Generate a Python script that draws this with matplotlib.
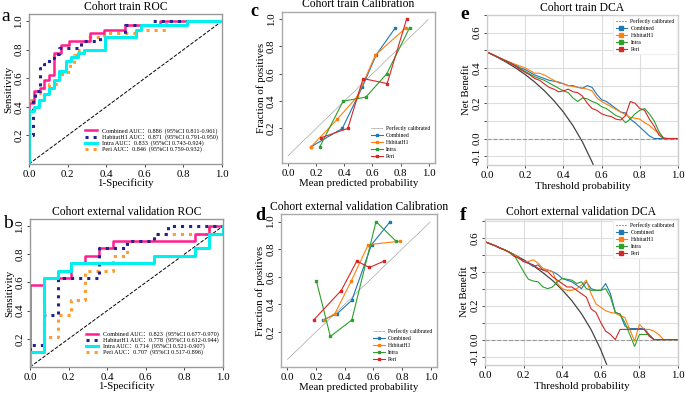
import matplotlib
matplotlib.use("Agg")
import matplotlib.pyplot as plt
from matplotlib.lines import Line2D
import numpy as np

plt.rcParams['font.family'] = ['Liberation Serif', 'Noto Sans CJK SC']

# ---------------- ROC data ----------------
roc_names = ["Combined", "HabitatH1", "Intra", "Peri"]

train_roc_auc = ["0.886", "0.871", "0.833", "0.846"]
train_roc_ci = ["0.811-0.961", "0.791-0.950", "0.743-0.924", "0.759-0.932"]
valid_roc_auc = ["0.823", "0.778", "0.714", "0.707"]
valid_roc_ci = ["0.677-0.970", "0.612-0.944", "0.521-0.907", "0.517-0.896"]

# train ROC corner points
train_comb_fpr = [0, 0, 0.026, 0.026, 0.055, 0.055, 0.078, 0.078, 0.104, 0.104, 0.13, 0.13, 0.164, 0.164,
                  0.207, 0.207, 0.314, 0.314, 0.39, 0.39, 0.5, 0.5, 0.68, 0.68, 1.0]
train_comb_tpr = [0, 0.43, 0.43, 0.51, 0.51, 0.53, 0.53, 0.59, 0.59, 0.62, 0.62, 0.78, 0.78, 0.83,
                  0.83, 0.86, 0.86, 0.915, 0.915, 0.94, 0.94, 0.97, 0.97, 1.0, 1.0]
train_hab_fpr = [0, 0, 0.02, 0.02, 0.03, 0.03, 0.055, 0.055, 0.08, 0.08, 0.105, 0.105, 0.13, 0.13,
                 0.155, 0.155, 0.27, 0.27, 0.37, 0.37, 0.5, 0.5, 0.63, 0.63, 1.0]
train_hab_tpr = [0, 0.2, 0.2, 0.45, 0.45, 0.51, 0.51, 0.67, 0.67, 0.70, 0.70, 0.74, 0.74, 0.77,
                 0.77, 0.81, 0.81, 0.86, 0.86, 0.89, 0.89, 0.97, 0.97, 1.0, 1.0]
train_intra_fpr = [0, 0, 0.025, 0.025, 0.05, 0.05, 0.078, 0.078, 0.105, 0.105, 0.13, 0.13, 0.155, 0.155,
                   0.19, 0.19, 0.216, 0.216, 0.254, 0.254, 0.285, 0.285, 0.392, 0.392, 0.555, 0.555,
                   0.58, 0.58, 0.82, 0.82, 1.0]
train_intra_tpr = [0, 0.37, 0.37, 0.40, 0.40, 0.45, 0.45, 0.49, 0.49, 0.53, 0.53, 0.59, 0.59, 0.65,
                   0.65, 0.72, 0.72, 0.75, 0.75, 0.78, 0.78, 0.80, 0.80, 0.89, 0.89, 0.94,
                   0.94, 0.97, 0.97, 1.0, 1.0]
train_peri_fpr = [0, 0, 0.03, 0.03, 0.055, 0.055, 0.105, 0.105, 0.155, 0.155, 0.18, 0.18, 0.21, 0.21,
                  0.235, 0.235, 0.26, 0.26, 0.27, 0.27, 0.3, 0.3, 0.39, 0.39, 0.56, 0.56, 0.71, 0.71, 1.0]
train_peri_tpr = [0, 0.45, 0.45, 0.50, 0.50, 0.53, 0.53, 0.56, 0.56, 0.63, 0.63, 0.645, 0.645, 0.70,
                  0.70, 0.76, 0.76, 0.80, 0.80, 0.86, 0.86, 0.89, 0.89, 0.92, 0.92, 0.94, 0.94, 1.0, 1.0]

# external validation ROC corner points
valid_comb_fpr = [0, 0, 0.071, 0.071, 0.214, 0.214, 0.286, 0.286, 0.357, 0.357, 0.429, 0.429,
                  0.857, 0.857, 0.929, 0.929, 1.0]
valid_comb_tpr = [0, 0.579, 0.579, 0.632, 0.632, 0.737, 0.737, 0.789, 0.789, 0.842, 0.842, 0.895,
                  0.895, 0.947, 0.947, 1.0, 1.0]
valid_hab_fpr = [0, 0, 0.071, 0.071, 0.143, 0.143, 0.357, 0.357, 0.5, 0.5, 0.643, 0.643, 0.714, 0.714, 1.0]
valid_hab_tpr = [0, 0.158, 0.158, 0.368, 0.368, 0.632, 0.632, 0.842, 0.842, 0.895, 0.895, 0.947,
                 0.947, 1.0, 1.0]
valid_intra_fpr = [0, 0, 0.071, 0.071, 0.143, 0.143, 0.214, 0.214, 0.643, 0.643, 0.857, 0.857,
                   0.929, 0.929, 1.0, 1.0]
valid_intra_tpr = [0, 0.105, 0.105, 0.632, 0.632, 0.684, 0.684, 0.737, 0.737, 0.789, 0.789, 0.842,
                   0.842, 0.947, 0.947, 1.0]
valid_peri_fpr = [0, 0, 0.071, 0.071, 0.143, 0.143, 0.214, 0.214, 0.286, 0.286, 0.429, 0.429,
                  0.5, 0.5, 0.643, 0.643, 0.929, 0.929, 1.0]
valid_peri_tpr = [0, 0.105, 0.105, 0.21, 0.21, 0.368, 0.368, 0.474, 0.474, 0.684, 0.684, 0.789,
                  0.789, 0.895, 0.895, 0.947, 0.947, 1.0, 1.0]

# ---------------- calibration data ----------------
cal_names = ["Combined", "HabitatH1", "Intra", "Peri"]
train_cal_x = [[0.165, 0.386, 0.527, 0.627, 0.764],
               [0.165, 0.35, 0.489, 0.622, 0.84],
               [0.227, 0.392, 0.553, 0.702, 0.865],
               [0.237, 0.425, 0.534, 0.705, 0.843]]
train_cal_y = [[0.067, 0.2, 0.5, 0.738, 0.938],
               [0.067, 0.267, 0.429, 0.738, 0.938],
               [0.067, 0.4, 0.429, 0.6, 0.938],
               [0.133, 0.2, 0.565, 0.529, 1.0]]
valid_cal_x = [[0.249, 0.348, 0.45, 0.588, 0.718],
               [0.258, 0.332, 0.447, 0.565, 0.788],
               [0.202, 0.30, 0.45, 0.619, 0.76],
               [0.183, 0.376, 0.485, 0.572, 0.677]]
valid_cal_y = [[0.286, 0.333, 0.429, 0.833, 1.0],
               [0.286, 0.333, 0.571, 0.833, 0.857],
               [0.571, 0.167, 0.286, 1.0, 0.857],
               [0.286, 0.5, 0.714, 0.667, 0.714]]

# ---------------- DCA data ----------------
dca_t = np.linspace(0, 1, 41)
train_all_t = [0, 0.05, 0.1, 0.15, 0.2, 0.25, 0.3, 0.35, 0.4, 0.45, 0.5, 0.55, 0.57]
train_all_nb = [0.49, 0.463, 0.433, 0.40, 0.3625, 0.32, 0.271, 0.215, 0.15, 0.073, -0.02, -0.133, -0.186]
valid_all_t = [0, 0.05, 0.1, 0.15, 0.2, 0.25, 0.3, 0.35, 0.4, 0.45, 0.5, 0.55, 0.6, 0.63, 0.645]
valid_all_nb = [0.576, 0.554, 0.529, 0.501, 0.47, 0.435, 0.394, 0.348, 0.293, 0.229, 0.152, 0.058,
                -0.06, -0.146, -0.19]

train_dca = [
    [0.49, 0.478, 0.465, 0.452, 0.44, 0.43, 0.415, 0.40, 0.39, 0.375, 0.36, 0.35, 0.34, 0.33, 0.325,
     0.32, 0.31, 0.30, 0.30, 0.29, 0.285, 0.30, 0.29, 0.25, 0.22, 0.21, 0.19, 0.17, 0.15, 0.145, 0.11,
     0.09, 0.065, 0.04, 0.015, 0, 0, 0, 0, 0, 0],
    [0.49, 0.478, 0.465, 0.452, 0.44, 0.43, 0.42, 0.41, 0.40, 0.385, 0.37, 0.37, 0.36, 0.345, 0.33,
     0.315, 0.31, 0.30, 0.295, 0.29, 0.285, 0.28, 0.27, 0.23, 0.21, 0.195, 0.18, 0.165, 0.15, 0.135,
     0.12, 0.115, 0.11, 0.09, 0.075, 0.05, 0.03, 0.005, 0, 0, 0],
    [0.49, 0.478, 0.465, 0.452, 0.44, 0.425, 0.41, 0.395, 0.38, 0.365, 0.35, 0.34, 0.33, 0.315, 0.30,
     0.285, 0.27, 0.26, 0.23, 0.21, 0.23, 0.225, 0.21, 0.20, 0.18, 0.17, 0.15, 0.13, 0.12, 0.09, 0.11,
     0.14, 0.16, 0.17, 0.14, 0.10, 0.04, 0, 0, 0, 0],
    [0.49, 0.478, 0.465, 0.452, 0.44, 0.425, 0.41, 0.39, 0.375, 0.36, 0.34, 0.33, 0.31, 0.29, 0.28,
     0.265, 0.27, 0.28, 0.265, 0.26, 0.24, 0.20, 0.17, 0.16, 0.14, 0.13, 0.125, 0.11, 0.105, 0.13, 0.21,
     0.20, 0.17, 0.16, 0.11, 0.07, 0.02, 0, 0, 0, 0],
]
valid_dca = [
    [0.576, 0.565, 0.554, 0.54, 0.529, 0.515, 0.50, 0.48, 0.46, 0.45, 0.43, 0.44, 0.41, 0.41, 0.40,
     0.385, 0.36, 0.35, 0.34, 0.32, 0.30, 0.34, 0.30, 0.29, 0.29, 0.33, 0.27, 0.16, 0.15, 0.08, 0.065,
     0.065, 0.065, 0.065, 0.03, 0, 0, 0, 0, 0, 0],
    [0.576, 0.565, 0.554, 0.54, 0.529, 0.515, 0.50, 0.48, 0.46, 0.46, 0.47, 0.45, 0.42, 0.41, 0.40,
     0.33, 0.30, 0.29, 0.29, 0.30, 0.32, 0.35, 0.27, 0.21, 0.19, 0.17, 0.16, 0.155, 0.14, 0.13, 0.06,
     -0.01, 0.09, 0.06, 0.06, 0.05, 0.03, 0, 0, 0, 0],
    [0.576, 0.565, 0.554, 0.54, 0.529, 0.515, 0.50, 0.45, 0.40, 0.355, 0.345, 0.34, 0.31, 0.30, 0.31,
     0.34, 0.36, 0.355, 0.35, 0.33, 0.34, 0.30, 0.29, 0.29, 0.29, 0.30, 0.25, 0.16, 0.15, 0.10, 0.03,
     -0.04, 0.03, 0.03, 0.03, 0, 0, 0, 0, 0, 0],
    [0.576, 0.565, 0.554, 0.54, 0.529, 0.515, 0.49, 0.48, 0.46, 0.45, 0.44, 0.42, 0.41, 0.40, 0.37,
     0.35, 0.33, 0.31, 0.31, 0.29, 0.27, 0.25, 0.18, 0.16, 0.10, 0.05, 0.03, 0, 0.06, 0.06, 0.06,
     0.06, 0.06, 0.06, 0.02, 0, 0, 0, 0, 0, 0],
]

roc_colors = ['#ff1f8e', '#23238e', '#00f0f0', '#ff9a2e']
roc_styles = ['-', ':', '-', ':']
roc_widths = [1.8, 2.2, 2.2, 2.2]
tab_colors = ['#1f77b4', '#ff7f0e', '#2ca02c', '#d62728']

FS = 7.8

fig = plt.figure(figsize=(6.85, 3.94), dpi=100)


def roc_panel(rect, title, letter, fprs, tprs, aucs, cis, letter_xy):
    ax = fig.add_axes(rect)
    ax.plot([0, 1], [0, 1], linestyle='--', color='black', linewidth=0.7)
    # draw order: orange, pink, navy, cyan on top
    order = [3, 0, 1, 2]
    handles = [None] * 4
    for i in order:
        label = f"{roc_names[i]} AUC：{aucs[i]}  (95%CI {cis[i]})"
        h, = ax.plot(fprs[i], tprs[i], color=roc_colors[i], linestyle=roc_styles[i],
                     linewidth=roc_widths[i], label=label)
        handles[i] = h
    ax.set_xlim(0, 1)
    ax.set_ylim(0, 1.05)
    ax.set_xticks(np.arange(0, 1.01, 0.2))
    ax.set_yticks([0.2, 0.4, 0.6, 0.8, 1.0])
    ax.set_xticklabels([f"{v:.1f}" for v in np.arange(0, 1.01, 0.2)])
    ax.set_yticklabels(["0.2", "0.4", "0.6", "0.8", "1.0"], rotation=90, va='center')
    ax.tick_params(labelsize=FS, length=2, width=0.5, pad=2)
    ax.set_xlabel("1-Specificity", fontsize=FS, labelpad=0)
    ax.set_ylabel("Sensitivity", fontsize=FS, labelpad=1)
    ax.set_title(title, fontsize=8.4, pad=3)
    for s in ax.spines.values():
        s.set_color('#999999')
        s.set_linewidth(1.0)
    ax.legend(handles=handles, loc='lower right', bbox_to_anchor=(1.0, 0.05), fontsize=4.4,
              frameon=False, handlelength=2.0, labelspacing=0.05, borderaxespad=0.3,
              handletextpad=0.8)
    fig.text(letter_xy[0], letter_xy[1], letter, fontsize=14, ha='left', va='center')
    return ax


def cal_panel(rect, title, letter, xs, ys, letter_xy):
    ax = fig.add_axes(rect)
    ax.plot([0, 1], [0, 1], linestyle=(0, (1, 0.6)), color='#8a8a8a', linewidth=0.6,
            label="Perfectly calibrated")
    for i in range(4):
        ax.plot(xs[i], ys[i], color=tab_colors[i], marker='s', markersize=2, linewidth=0.8,
                label=cal_names[i])
    ax.set_xlim(-0.045, 1.045)
    ax.set_ylim(-0.055, 1.055)
    ax.set_xticks(np.arange(0, 1.01, 0.2))
    ax.set_xticklabels([f"{v:.1f}" for v in np.arange(0, 1.01, 0.2)])
    ax.set_yticks([0.2, 0.4, 0.6, 0.8, 1.0])
    ax.set_yticklabels(["0.2", "0.4", "0.6", "0.8", "1.0"], rotation=90, va='center')
    ax.tick_params(labelsize=FS, length=2, width=0.5, pad=2)
    ax.set_xlabel("Mean predicted probability", fontsize=FS, labelpad=1)
    ax.set_ylabel("Fraction of positives", fontsize=FS, labelpad=1)
    ax.set_title(title, fontsize=8.4, pad=3)
    for s in ax.spines.values():
        s.set_color('#aaaaaa')
        s.set_linewidth(1.0)
    ax.legend(loc='lower right', fontsize=4.1, frameon=False, handlelength=2.0,
              labelspacing=0.35, borderaxespad=0.4, handletextpad=0.6)
    fig.text(letter_xy[0], letter_xy[1], letter, fontsize=13, fontweight='bold', ha='left', va='center')
    return ax


def dca_panel(rect, title, letter, all_t, all_nb, curves, ylim, letter_xy):
    ax = fig.add_axes(rect)
    ax.set_axisbelow(True)
    ax.plot(all_t, all_nb, color='#444444', linewidth=0.9)
    ax.axhline(0, color='#999999', linestyle='--', linewidth=0.8)
    for i in range(4):
        ax.plot(dca_t, curves[i], color=tab_colors[i], linewidth=0.8)
    ax.set_xlim(0, 1)
    ax.set_ylim(ylim)
    ax.set_xticks(np.arange(0, 1.01, 0.2))
    ax.set_xticklabels([f"{v:.1f}" for v in np.arange(0, 1.01, 0.2)])
    ax.set_yticks([-0.1, 0.0, 0.2, 0.4, 0.6])
    ax.set_yticklabels(["-0.1", "0.0", "0.2", "0.4", "0.6"], rotation=90, va='center')
    ax.set_yticks([0.1, 0.3, 0.5, 0.7], minor=True)
    ax.grid(True, which='both', axis='y', color='#dddddd', linewidth=0.8)
    ax.grid(True, which='major', axis='x', color='#dddddd', linewidth=0.8)
    ax.tick_params(labelsize=FS, length=2, width=0.5, pad=2)
    ax.tick_params(which='minor', length=2, width=0.5)
    ax.set_xlabel("Threshold probability", fontsize=FS, labelpad=1.5)
    ax.set_ylabel("Net Benefit", fontsize=FS, labelpad=1)
    ax.set_title(title, fontsize=8.4, pad=3)
    for s in ax.spines.values():
        s.set_color('#cccccc')
        s.set_linewidth(1.0)
    handles = [Line2D([], [], color='#555555', linestyle=':', linewidth=0.8)]
    for i in range(4):
        handles.append(Line2D([], [], color=tab_colors[i], marker='s', markersize=2.2, linewidth=0.8))
    ax.legend(handles, ["Perfectly calibrated"] + cal_names, loc='upper right', fontsize=4.1,
              frameon=True, facecolor='white', edgecolor='#f0f0f0', framealpha=1,
              handlelength=2.0, labelspacing=0.35, borderaxespad=0.2, handletextpad=0.6)
    fig.text(letter_xy[0], letter_xy[1], letter, fontsize=14, fontweight='bold', ha='left', va='center')
    return ax


roc_panel([0.0423, 0.5838, 0.2818, 0.3807], "Cohort train ROC", "a",
          [train_comb_fpr, train_hab_fpr, train_intra_fpr, train_peri_fpr],
          [train_comb_tpr, train_hab_tpr, train_intra_tpr, train_peri_tpr],
          train_roc_auc, train_roc_ci, (0.002, 0.958))
roc_panel([0.0438, 0.0685, 0.2818, 0.3757], "Cohort external validation ROC", "b",
          [valid_comb_fpr, valid_hab_fpr, valid_intra_fpr, valid_peri_fpr],
          [valid_comb_tpr, valid_hab_tpr, valid_intra_tpr, valid_peri_tpr],
          valid_roc_auc, valid_roc_ci, (0.004, 0.432))

cal_panel([0.4112, 0.5855, 0.2238, 0.385], "Cohort train Calibration", "c",
          train_cal_x, train_cal_y, (0.365, 0.972))
cal_panel([0.4102, 0.0685, 0.2277, 0.3883], "Cohort external validation Calibration", "d",
          valid_cal_x, valid_cal_y, (0.372, 0.452))

dca_panel([0.711, 0.5812, 0.2788, 0.3807], "Cohort train DCA", "e",
          train_all_t, train_all_nb, train_dca, (-0.15, 0.65), (0.672, 0.962))
dca_panel([0.708, 0.0735, 0.2818, 0.3706], "Cohort external validation DCA", "f",
          valid_all_t, valid_all_nb, valid_dca, (-0.15, 0.71), (0.672, 0.452))

plt.savefig("out.png", dpi=100)
